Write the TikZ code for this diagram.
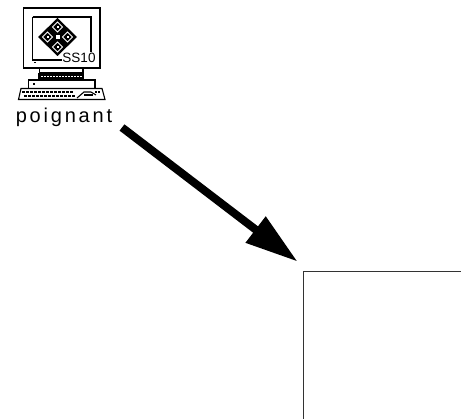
\documentclass[tikz,border=0pt]{standalone}
\usepackage{fontspec}
\setmainfont{Liberation Sans}
\newfontfamily\labelfont[LetterSpace=14]{Liberation Sans}
\usetikzlibrary{arrows.meta,positioning}
\tikzset{
    % thin outlines of the workstation
    iconline/.style={black,line width=1.1pt},
    hostlabel/.style={font=\labelfont\fontsize{20}{20}\selectfont,inner sep=0pt},
    badge/.style={font=\fontsize{13.5}{14}\selectfont,inner sep=0.5pt,fill=white},
    bigarrow/.style={line width=8pt,black,-{Triangle[length=53pt,width=31pt]}},
    zone/.style={draw=black!80,line width=1pt},
}

\begin{document}
\begin{tikzpicture}[x=1pt,y=-1pt]
  \useasboundingbox (0,0) rectangle (461,419);
  \fill[white] (0,0) rectangle (461,419);

  % --- the workstation ---
  \draw[iconline] (23.5,8) rectangle (100,68);
  \draw[iconline] (32.5,17) -- (91,17) -- (91,54);
  \draw[iconline] (32.5,17) -- (32.5,60) -- (64,60);
  \fill[black] (34,62) rectangle (35.5,63.5);
  % logo on the screen
  \fill[black] (57.5,18) -- (77,37) -- (57.5,56) -- (38,37) -- cycle;
  \foreach \x/\y in {57.5/27,47.5/37,67.5/37,57.5/47}{
    \draw[white,line width=0.8pt] (\x-5,\y) -- (\x,\y-5) -- (\x+5,\y) -- (\x,\y+5) -- cycle;
    \fill[white] (\x-1,\y-1) rectangle (\x+1,\y+1);}
  \fill[white] (55.5,35) rectangle (59.5,39);
  \node[badge] (ss) at (79,57.5) {SS10};
  % neck
  \draw[iconline] (39.5,68) -- (39.5,73) -- (83,73) -- (83,68);
  \fill[black] (38,73) rectangle (84,79);
  \foreach \x in {43,47,51,55,59,71,77}{\fill[white] (\x,70) rectangle (\x+2,72);}
  \foreach \x in {41,44,...,80}{\fill[white] (\x,76) rectangle (\x+1.5,77.5);}
  % cpu box
  \draw[iconline] (28.5,80) rectangle (95,88.5);
  \fill[black] (33,83) rectangle (35,85);
  % keyboard
  \draw[iconline] (21,88.5) -- (102,88.5) -- (105,99.5) -- (18.5,99.5) -- cycle;
  \foreach \x in {22,26,...,70}{\fill[black] (\x,91) rectangle (\x+2.5,93);}
  \foreach \x in {24,28,...,72}{\fill[black] (\x,95) rectangle (\x+2.5,97);}
  \draw[iconline] (77,98) -- (84,92) -- (91,92) -- (96,95);
  \draw[iconline] (84,95) -- (93,95);
  \foreach \x in {95,98}{\fill[black] (\x,91) rectangle (\x+2,93);}

  \node[hostlabel] (poignant) at (64,117) {poignant};

  % --- the region ---
  \coordinate (cornerTL) at (303,271.5);
  \coordinate (arrowend) at (297.7,261.7);
  \draw[zone] (461,271.5) -- (cornerTL) -- (303,419);

  % --- the link ---
  \coordinate (arrowstart) at (122,127.5);
  \draw[bigarrow] (arrowstart) -- (arrowend);
\end{tikzpicture}
\end{document}
